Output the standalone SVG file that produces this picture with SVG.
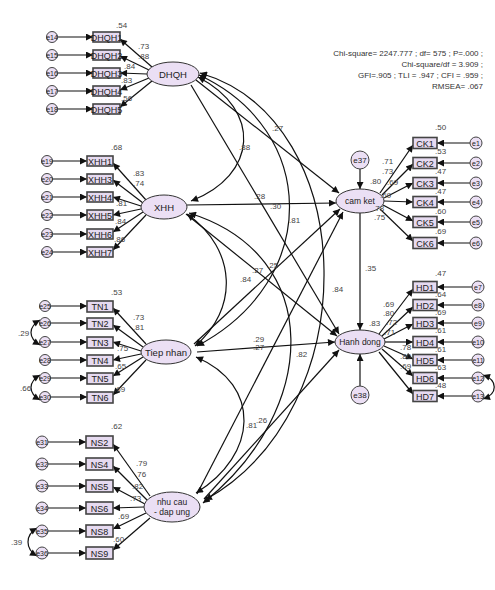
<svg xmlns="http://www.w3.org/2000/svg" width="495" height="590" viewBox="0 0 495 590">
<style>
.lat{fill:#ebdff4;stroke:#333;stroke-width:1}
.box{fill:#e6daf0;stroke:#444;stroke-width:1.6}
.err{fill:#ebdff4;stroke:#444;stroke-width:1}
.ln{fill:none;stroke:#111;stroke-width:1.2;marker-end:url(#ah)}
.cv{fill:none;stroke:#111;stroke-width:1.2;marker-end:url(#ah);marker-start:url(#ah)}
.t{font-family:"Liberation Sans",Arial,sans-serif;fill:#222;text-anchor:middle}
.bt{font-size:9px}
.et{font-size:7px}
.lt{font-size:9.5px}
.n{font-family:"Liberation Sans",Arial,sans-serif;font-size:8px;fill:#444}
.st{font-family:"Liberation Sans",Arial,sans-serif;font-size:8px;fill:#333;text-anchor:end}
</style>
<defs>
<marker id="ah" viewBox="0 0 10 10" refX="10" refY="5" markerWidth="9" markerHeight="7" markerUnits="userSpaceOnUse" orient="auto-start-reverse">
<path d="M0,0 L10,5 L0,10 z" fill="#111"/>
</marker>
</defs>
<rect width="495" height="590" fill="#fff"/>

<g id="connectors">
<path class="ln" d="M58,37 L93,37"/><path class="ln" d="M58,55 L93,55"/><path class="ln" d="M58,73 L93,73"/><path class="ln" d="M58,91 L93,91"/><path class="ln" d="M58,109 L93,109"/>
<path class="ln" d="M152,67 L120,39"/><path class="ln" d="M149,70 L120,56"/><path class="ln" d="M147,74 L120,73"/><path class="ln" d="M149,78 L120,90"/><path class="ln" d="M152,81 L120,107"/>
<path class="ln" d="M53,161 L87,161"/><path class="ln" d="M53,179 L87,179"/><path class="ln" d="M53,197 L87,197"/><path class="ln" d="M53,215 L87,215"/><path class="ln" d="M53,234 L87,234"/><path class="ln" d="M53,252 L87,252"/>
<path class="ln" d="M146,200 L113,163"/><path class="ln" d="M143,203 L113,180"/><path class="ln" d="M141,206 L113,197"/><path class="ln" d="M141,209 L113,215"/><path class="ln" d="M143,212 L113,232"/><path class="ln" d="M146,215 L113,250"/>
<path class="ln" d="M51,306 L87,306"/><path class="ln" d="M51,323 L87,323"/><path class="ln" d="M51,342 L87,342"/><path class="ln" d="M51,360 L87,360"/><path class="ln" d="M51,378 L87,378"/><path class="ln" d="M51,397 L87,397"/>
<path class="ln" d="M146,344 L113,308"/><path class="ln" d="M143,347 L113,325"/><path class="ln" d="M141,351 L113,342"/><path class="ln" d="M141,354 L113,360"/><path class="ln" d="M143,357 L113,376"/><path class="ln" d="M146,360 L113,395"/>
<path class="cv" d="M40,320 C28,327 28,338 40,345"/>
<path class="cv" d="M40,375 C28,382 28,393 40,400"/>
<path class="ln" d="M48,442 L86,442"/><path class="ln" d="M48,464 L86,464"/><path class="ln" d="M48,486 L86,486"/><path class="ln" d="M48,508 L86,508"/><path class="ln" d="M48,531 L86,531"/><path class="ln" d="M48,553 L86,553"/>
<path class="ln" d="M150,496 L113,444"/><path class="ln" d="M147,500 L113,466"/><path class="ln" d="M145,504 L113,487"/><path class="ln" d="M144,507 L113,508"/><path class="ln" d="M146,513 L113,529"/><path class="ln" d="M150,518 L113,550"/>
<path class="cv" d="M37,528 C25,535 25,549 37,556"/>
<path class="ln" d="M380,193 L413,145"/><path class="ln" d="M382,195 L413,164"/><path class="ln" d="M384,198 L413,183"/><path class="ln" d="M384,201 L413,202"/><path class="ln" d="M383,205 L413,221"/><path class="ln" d="M380,209 L413,241"/>
<path class="ln" d="M470,143 L437,143"/><path class="ln" d="M470,163 L437,163"/><path class="ln" d="M470,183 L437,183"/><path class="ln" d="M470,202 L437,202"/><path class="ln" d="M470,222 L437,222"/><path class="ln" d="M470,243 L437,243"/>
<path class="ln" d="M360,169 L360,189"/>
<path class="ln" d="M379,334 L413,289"/><path class="ln" d="M382,336 L413,307"/><path class="ln" d="M384,339 L413,324"/><path class="ln" d="M385,342 L413,342"/><path class="ln" d="M384,346 L413,359"/><path class="ln" d="M382,349 L413,376"/><path class="ln" d="M379,352 L413,394"/>
<path class="ln" d="M472,287 L437,287"/><path class="ln" d="M472,305 L437,305"/><path class="ln" d="M472,323 L437,323"/><path class="ln" d="M472,342 L437,342"/><path class="ln" d="M472,360 L437,360"/><path class="ln" d="M472,378 L437,378"/><path class="ln" d="M472,396 L437,396"/>
<path class="cv" d="M483,375 C498,380 498,394 483,399"/>
<path class="ln" d="M360,386 L360,354"/>
<path class="ln" d="M360,213 L360,330"/>
<path class="ln" d="M196,80 L339,193"/>
<path class="ln" d="M191,85 L339,334"/>
<path class="ln" d="M187,205 L336,203"/>
<path class="ln" d="M186,214 L337,336"/>
<path class="ln" d="M194,344 L340,209"/>
<path class="ln" d="M197,352 L335,342"/>
<path class="ln" d="M197,494 L343,212"/>
<path class="ln" d="M204,499 L339,350"/>
<path class="cv" d="M198,77 C262,110 258,175 191,201"/>
<path class="cv" d="M199,75 C318,130 322,280 197,346"/>
<path class="cv" d="M200,73 C362,120 367,410 205,500"/>
<path class="cv" d="M187,214 C238,250 238,310 195,346"/>
<path class="cv" d="M189,213 C325,255 320,410 203,503"/>
<path class="cv" d="M196,357 C262,385 258,455 196,493"/>
</g>

<g id="DHQH">
<ellipse class="lat" cx="173" cy="74" rx="26" ry="12"/><text class="t lt" x="173" y="77.5">DHQH</text>
<rect class="box" x="93" y="32" width="27" height="10"/><text class="t bt" x="106.5" y="40.5">DHQH1</text>
<rect class="box" x="93" y="50" width="27" height="10"/><text class="t bt" x="106.5" y="58.5">DHQH2</text>
<rect class="box" x="93" y="68" width="27" height="10"/><text class="t bt" x="106.5" y="76.5">DHQH3</text>
<rect class="box" x="93" y="86" width="27" height="10"/><text class="t bt" x="106.5" y="94.5">DHQH4</text>
<rect class="box" x="93" y="104" width="27" height="10"/><text class="t bt" x="106.5" y="112.5">DHQH5</text>
<circle class="err" cx="52" cy="37" r="5.5"/><text class="t et" x="52" y="39.5">e14</text>
<circle class="err" cx="52" cy="55" r="5.5"/><text class="t et" x="52" y="57.5">e15</text>
<circle class="err" cx="52" cy="73" r="5.5"/><text class="t et" x="52" y="75.5">e16</text>
<circle class="err" cx="52" cy="91" r="5.5"/><text class="t et" x="52" y="93.5">e17</text>
<circle class="err" cx="52" cy="109" r="5.5"/><text class="t et" x="52" y="111.5">e18</text>
<text class="n" x="116" y="28">.54</text><text class="n" x="138" y="49">.73</text><text class="n" x="138" y="59">.88</text><text class="n" x="124" y="69">.84</text><text class="n" x="121" y="83">.83</text><text class="n" x="121" y="101">.56</text>
</g>

<g id="XHH">
<ellipse class="lat" cx="164" cy="207" rx="23" ry="12"/><text class="t lt" x="164" y="210.5">XHH</text>
<rect class="box" x="87" y="156" width="26" height="10"/><text class="t bt" x="100" y="164.5">XHH1</text>
<rect class="box" x="87" y="174" width="26" height="10"/><text class="t bt" x="100" y="182.5">XHH3</text>
<rect class="box" x="87" y="192" width="26" height="10"/><text class="t bt" x="100" y="200.5">XHH4</text>
<rect class="box" x="87" y="210" width="26" height="10"/><text class="t bt" x="100" y="218.5">XHH5</text>
<rect class="box" x="87" y="229" width="26" height="10"/><text class="t bt" x="100" y="237.5">XHH6</text>
<rect class="box" x="87" y="247" width="26" height="10"/><text class="t bt" x="100" y="255.5">XHH7</text>
<circle class="err" cx="47" cy="161" r="5.5"/><text class="t et" x="47" y="163.5">e19</text>
<circle class="err" cx="47" cy="179" r="5.5"/><text class="t et" x="47" y="181.5">e20</text>
<circle class="err" cx="47" cy="197" r="5.5"/><text class="t et" x="47" y="199.5">e21</text>
<circle class="err" cx="47" cy="215" r="5.5"/><text class="t et" x="47" y="217.5">e22</text>
<circle class="err" cx="47" cy="234" r="5.5"/><text class="t et" x="47" y="236.5">e23</text>
<circle class="err" cx="47" cy="252" r="5.5"/><text class="t et" x="47" y="254.5">e24</text>
<text class="n" x="111" y="150">.68</text><text class="n" x="133" y="176">.83</text><text class="n" x="133" y="186">.74</text><text class="n" x="116" y="206">.81</text><text class="n" x="115" y="224">.84</text><text class="n" x="114" y="242">.86</text>
</g>

<g id="Tiep_nhan">
<ellipse class="lat" cx="166" cy="352" rx="25" ry="12"/><text class="t lt" x="166" y="355.5">Tiep nhan</text>
<rect class="box" x="87" y="301" width="26" height="11"/><text class="t bt" x="100" y="309.5">TN1</text>
<rect class="box" x="87" y="318" width="26" height="11"/><text class="t bt" x="100" y="326.5">TN2</text>
<rect class="box" x="87" y="337" width="26" height="11"/><text class="t bt" x="100" y="345.5">TN3</text>
<rect class="box" x="87" y="355" width="26" height="11"/><text class="t bt" x="100" y="363.5">TN4</text>
<rect class="box" x="87" y="373" width="26" height="11"/><text class="t bt" x="100" y="381.5">TN5</text>
<rect class="box" x="87" y="392" width="26" height="11"/><text class="t bt" x="100" y="400.5">TN6</text>
<circle class="err" cx="45" cy="306" r="5.5"/><text class="t et" x="45" y="308.5">e25</text>
<circle class="err" cx="45" cy="323" r="5.5"/><text class="t et" x="45" y="325.5">e26</text>
<circle class="err" cx="45" cy="342" r="5.5"/><text class="t et" x="45" y="344.5">e27</text>
<circle class="err" cx="45" cy="360" r="5.5"/><text class="t et" x="45" y="362.5">e28</text>
<circle class="err" cx="45" cy="378" r="5.5"/><text class="t et" x="45" y="380.5">e29</text>
<circle class="err" cx="45" cy="397" r="5.5"/><text class="t et" x="45" y="399.5">e30</text>
<text class="n" x="111" y="295">.53</text><text class="n" x="133" y="320">.73</text><text class="n" x="133" y="330">.81</text><text class="n" x="117" y="351">.75</text><text class="n" x="115" y="369">.65</text><text class="n" x="114" y="392">.69</text>
<text class="n" x="18" y="336">.29</text><text class="n" x="20" y="391">.66</text>
</g>

<g id="nhu_cau">
<ellipse class="lat" cx="172" cy="507" rx="28" ry="15"/><text class="t" font-size="8.5" x="172" y="505">nhu cau</text><text class="t" font-size="8.5" x="172" y="515">- dap ung</text>
<rect class="box" x="86" y="436" width="27" height="12"/><text class="t bt" x="99.5" y="445.5">NS2</text>
<rect class="box" x="86" y="458" width="27" height="12"/><text class="t bt" x="99.5" y="467.5">NS4</text>
<rect class="box" x="86" y="480" width="27" height="12"/><text class="t bt" x="99.5" y="489.5">NS5</text>
<rect class="box" x="86" y="502" width="27" height="12"/><text class="t bt" x="99.5" y="511.5">NS6</text>
<rect class="box" x="86" y="525" width="27" height="12"/><text class="t bt" x="99.5" y="534.5">NS8</text>
<rect class="box" x="86" y="547" width="27" height="12"/><text class="t bt" x="99.5" y="556.5">NS9</text>
<circle class="err" cx="42" cy="442" r="6"/><text class="t et" x="42" y="444.5">e31</text>
<circle class="err" cx="42" cy="464" r="6"/><text class="t et" x="42" y="466.5">e32</text>
<circle class="err" cx="42" cy="486" r="6"/><text class="t et" x="42" y="488.5">e33</text>
<circle class="err" cx="42" cy="508" r="6"/><text class="t et" x="42" y="510.5">e34</text>
<circle class="err" cx="42" cy="531" r="6"/><text class="t et" x="42" y="533.5">e35</text>
<circle class="err" cx="42" cy="553" r="6"/><text class="t et" x="42" y="555.5">e36</text>
<text class="n" x="111" y="429">.62</text><text class="n" x="136" y="466">.79</text><text class="n" x="135" y="477">.76</text><text class="n" x="132" y="489">.82</text><text class="n" x="130" y="501">.73</text><text class="n" x="118" y="519">.69</text><text class="n" x="113" y="542">.60</text>
<text class="n" x="11" y="545">.39</text>
</g>

<g id="cam_ket">
<ellipse class="lat" cx="360" cy="201" rx="24" ry="12"/><text class="t" font-size="8.5" x="360" y="204">cam ket</text>
<circle class="err" cx="360" cy="160" r="9"/><text class="t" font-size="8" x="360" y="163">e37</text>
<rect class="box" x="413" y="137.5" width="24" height="11"/><text class="t bt" x="425" y="146.5">CK1</text>
<rect class="box" x="413" y="157.5" width="24" height="11"/><text class="t bt" x="425" y="166.5">CK2</text>
<rect class="box" x="413" y="177.5" width="24" height="11"/><text class="t bt" x="425" y="186.5">CK3</text>
<rect class="box" x="413" y="196.5" width="24" height="11"/><text class="t bt" x="425" y="205.5">CK4</text>
<rect class="box" x="413" y="216.5" width="24" height="11"/><text class="t bt" x="425" y="225.5">CK5</text>
<rect class="box" x="413" y="237.5" width="24" height="11"/><text class="t bt" x="425" y="246.5">CK6</text>
<circle class="err" cx="476" cy="143" r="6"/><text class="t et" x="476" y="145.5">e1</text>
<circle class="err" cx="476" cy="163" r="6"/><text class="t et" x="476" y="165.5">e2</text>
<circle class="err" cx="476" cy="183" r="6"/><text class="t et" x="476" y="185.5">e3</text>
<circle class="err" cx="476" cy="202" r="6"/><text class="t et" x="476" y="204.5">e4</text>
<circle class="err" cx="476" cy="222" r="6"/><text class="t et" x="476" y="224.5">e5</text>
<circle class="err" cx="476" cy="243" r="6"/><text class="t et" x="476" y="245.5">e6</text>
<text class="n" x="435" y="130">.50</text><text class="n" x="435" y="154">.53</text><text class="n" x="435" y="174">.47</text><text class="n" x="435" y="194">.47</text><text class="n" x="435" y="214">.60</text><text class="n" x="435" y="234">.69</text>
<text class="n" x="382" y="164">.71</text><text class="n" x="382" y="174">.73</text><text class="n" x="370" y="184">.80</text><text class="n" x="387" y="185">.69</text><text class="n" x="380" y="198">.69</text><text class="n" x="373" y="211">.78</text><text class="n" x="374" y="220">.75</text>
</g>

<g id="Hanh_dong">
<ellipse class="lat" cx="360" cy="342" rx="25" ry="12"/><text class="t" font-size="8.5" x="360" y="345">Hanh dong</text>
<circle class="err" cx="360" cy="395" r="9"/><text class="t" font-size="8" x="360" y="398">e38</text>
<rect class="box" x="413" y="281.5" width="24" height="11"/><text class="t bt" x="425" y="290.5">HD1</text>
<rect class="box" x="413" y="299.5" width="24" height="11"/><text class="t bt" x="425" y="308.5">HD2</text>
<rect class="box" x="413" y="317.5" width="24" height="11"/><text class="t bt" x="425" y="326.5">HD3</text>
<rect class="box" x="413" y="336.5" width="24" height="11"/><text class="t bt" x="425" y="345.5">HD4</text>
<rect class="box" x="413" y="354.5" width="24" height="11"/><text class="t bt" x="425" y="363.5">HD5</text>
<rect class="box" x="413" y="372.5" width="24" height="11"/><text class="t bt" x="425" y="381.5">HD6</text>
<rect class="box" x="413" y="390.5" width="24" height="11"/><text class="t bt" x="425" y="399.5">HD7</text>
<circle class="err" cx="478" cy="287" r="6"/><text class="t et" x="478" y="289.5">e7</text>
<circle class="err" cx="478" cy="305" r="6"/><text class="t et" x="478" y="307.5">e8</text>
<circle class="err" cx="478" cy="323" r="6"/><text class="t et" x="478" y="325.5">e9</text>
<circle class="err" cx="478" cy="342" r="6"/><text class="t et" x="478" y="344.5">e10</text>
<circle class="err" cx="478" cy="360" r="6"/><text class="t et" x="478" y="362.5">e11</text>
<circle class="err" cx="478" cy="378" r="6"/><text class="t et" x="478" y="380.5">e12</text>
<circle class="err" cx="478" cy="396" r="6"/><text class="t et" x="478" y="398.5">e13</text>
<text class="n" x="435" y="276">.47</text><text class="n" x="435" y="297">.64</text><text class="n" x="435" y="315">.69</text><text class="n" x="435" y="333">.61</text><text class="n" x="435" y="352">.61</text><text class="n" x="435" y="370">.63</text><text class="n" x="435" y="388">.48</text>
<text class="n" x="383" y="307">.69</text><text class="n" x="383" y="316">.80</text><text class="n" x="369" y="326">.83</text><text class="n" x="386" y="325">.72</text><text class="n" x="384" y="335">.71</text><text class="n" x="400" y="350">.78</text><text class="n" x="400" y="359">.80</text><text class="n" x="400" y="369">.69</text>
</g>

<g id="labels">
<text class="n" x="272" y="131">.27</text>
<text class="n" x="239" y="150">.88</text>
<text class="n" x="254" y="199">.28</text>
<text class="n" x="270" y="209">.30</text>
<text class="n" x="289" y="223">.81</text>
<text class="n" x="252" y="273">.27</text>
<text class="n" x="267" y="268">.25</text>
<text class="n" x="240" y="282">.84</text>
<text class="n" x="332" y="292">.84</text>
<text class="n" x="253" y="342">.29</text>
<text class="n" x="253" y="350">.27</text>
<text class="n" x="296" y="357">.82</text>
<text class="n" x="365" y="271">.35</text>
<text class="n" x="246" y="428">.81</text>
<text class="n" x="256" y="423">.26</text>
</g>

<g id="fit">
<text class="st" x="483" y="56">Chi-square= 2247.777 ; df= 575 ; P=.000 ;</text>
<text class="st" x="483" y="67">Chi-square/df = 3.909 ;</text>
<text class="st" x="483" y="78">GFI=.905 ; TLI = .947 ; CFI = .959 ;</text>
<text class="st" x="483" y="89">RMSEA= .067</text>
</g>
</svg>
